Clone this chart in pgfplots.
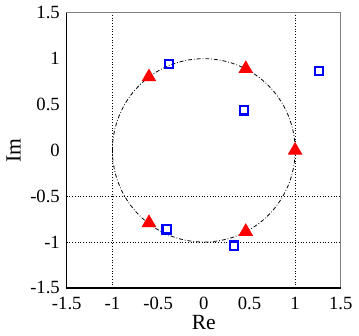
\documentclass[border=0pt]{standalone}
\usepackage{fontspec}
\setmainfont{Liberation Serif}
\usepackage{pgfplots}
\pgfplotsset{compat=1.18}

\begin{document}
\begin{tikzpicture}
\begin{axis}[
    scale only axis,
    width=139.5pt, height=140pt,
    xmin=-1.5, xmax=1.5, ymin=-1.5, ymax=1.5,
    xtick={-1.5,-1,-0.5,0,0.5,1,1.5},
    ytick={-1.5,-1,-0.5,0,0.5,1,1.5},
    major tick length=0pt,
    /pgf/number format/assume math mode=true,
    tick label style={font=\fontsize{9.5}{10}\selectfont},
    xticklabel style={yshift=-1pt},
    label style={font=\fontsize{11}{12}\selectfont},
    xlabel={Re}, ylabel={Im},
    xlabel style={yshift=4pt},
    ylabel style={yshift=-2pt},
    axis line style={gray, line width=0.6pt},
    extra x ticks={-1,1}, extra x tick labels={},
    extra y ticks={-0.5,-1}, extra y tick labels={},
    extra tick style={grid=major, major grid style={black, densely dotted, line width=0.5pt}},
    clip=false,
]
% unit circle
\draw[black, line width=0.4pt, dash pattern=on 2pt off 1pt on 0.4pt off 1pt]
    (axis cs:0,0) circle [radius=1];
\draw[black, line width=0.7pt] (rel axis cs:0,1) -- (rel axis cs:0,0) -- (rel axis cs:1,0);
\addplot[only marks, mark=triangle*, mark size=3.9pt, color=red, fill=red] coordinates {
    (1,0) (0.46,0.89) (-0.6,0.8) (-0.6,-0.79) (0.46,-0.886)
};
\addplot[only marks, mark=square, mark size=2.1pt, color=blue, mark options={line width=1.2pt}] coordinates {
    (-0.38,0.94) (1.26,0.865) (0.44,0.436) (-0.406,-0.86) (0.33,-1.04)
};
\end{axis}
\end{tikzpicture}
\end{document}
